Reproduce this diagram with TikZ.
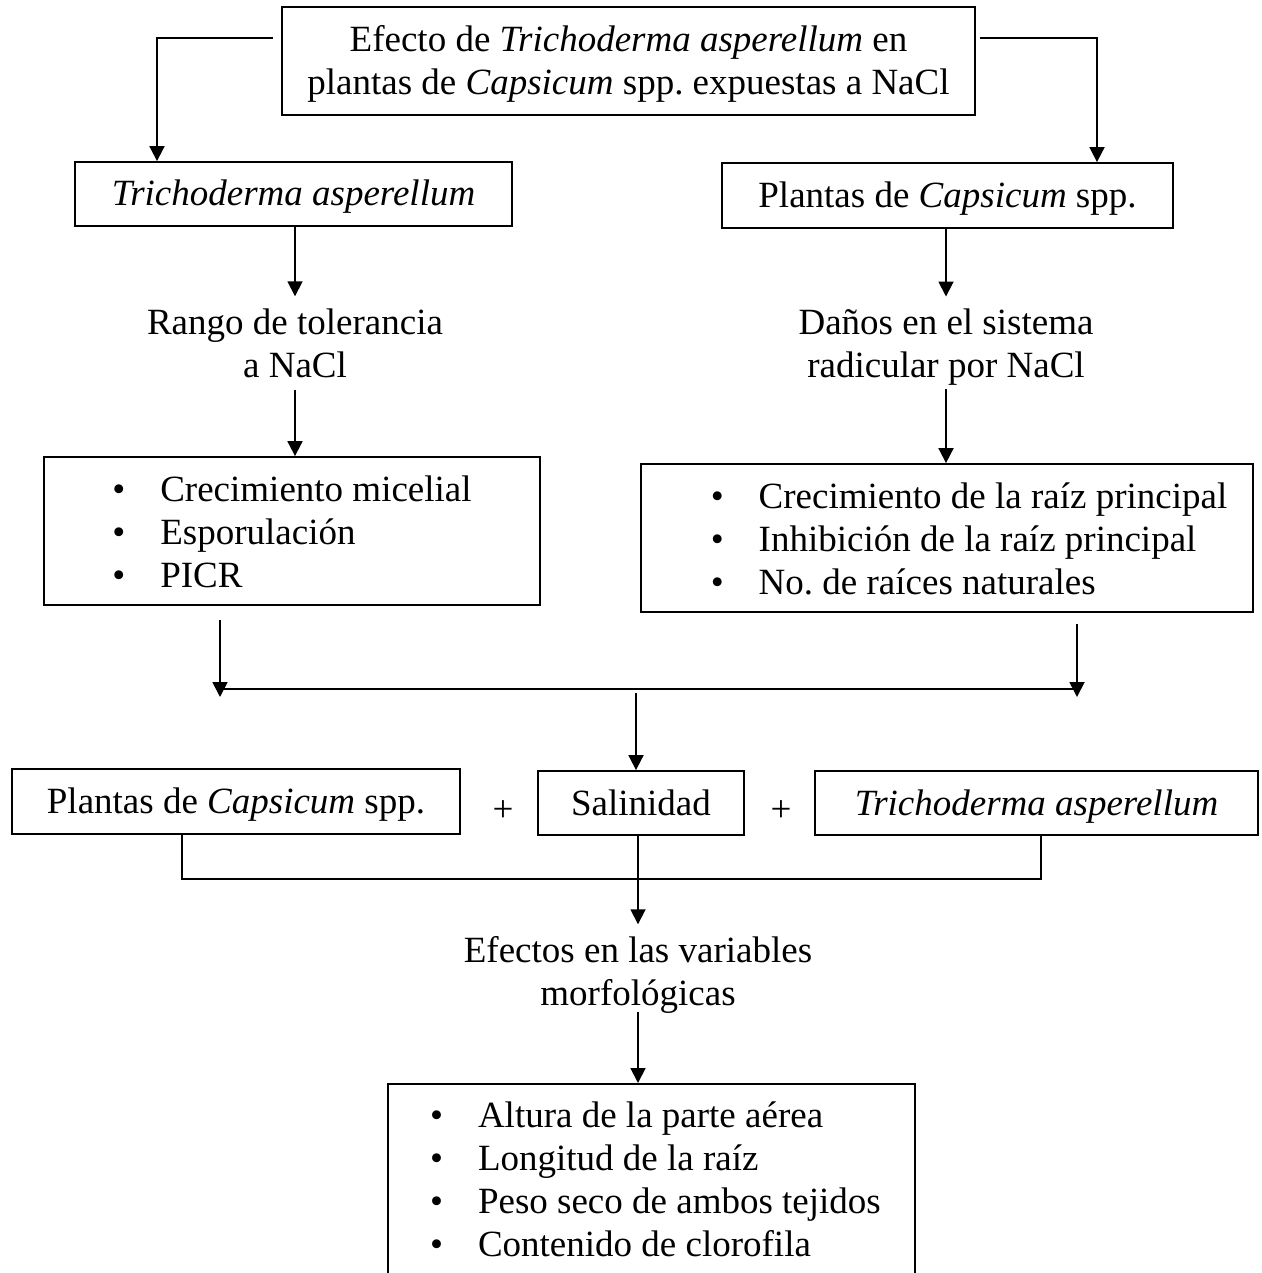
\documentclass[tikz,border=0pt]{standalone}
\usepackage{fontspec}
\setmainfont{Liberation Serif}
\usetikzlibrary{arrows.meta, positioning}
\frenchspacing

\begin{document}
\begin{tikzpicture}[x=1pt, y=-1pt, font=\fontsize{37}{43}\selectfont,
	box/.style={draw, line width=1.8pt, inner sep=0pt, align=center},
	linea/.style={text height=30pt, text depth=6pt},
	txt/.style={inner xsep=0pt, inner ysep=12pt, align=center},
	arr/.style={-{Triangle[length=15pt, width=15pt]}, line width=1.8pt}]
\useasboundingbox (0,0) rectangle (1261,1273);
\node[box, minimum width=693pt, minimum height=108pt] (tema) at (628.5,61) {\rule{0pt}{31pt}Efecto de \textit{Trichoderma asperellum} en\\plantas de \textit{Capsicum} spp. expuestas a NaCl};
\node[box, linea, minimum width=437pt, minimum height=64pt] (tricho) at (293.5,194) {\textit{Trichoderma asperellum}};
\node[box, linea, minimum width=451pt, minimum height=65pt] (capsi) at (947.5,195.5) {Plantas de \textit{Capsicum} spp.};
\node[txt] (rango) at (295,343) {Rango de tolerancia\\a NaCl};
\node[txt] (danos) at (946,347) {Daños en el sistema\\radicular por NaCl};
\node[box, minimum width=496pt, minimum height=148pt] (micel) at (292,531) {\begin{tabular}{@{}c@{\hspace{35pt}}l@{}}\rule{0pt}{40pt}\textbullet & Crecimiento micelial\\ \textbullet & Esporulación\\ \textbullet & PICR\end{tabular}};
\node[box, minimum width=612pt, minimum height=148pt] (raiz) at (947,538) {\begin{tabular}{@{\hspace{44pt}}c@{\hspace{35pt}}l@{}}\rule{0pt}{40pt}\textbullet & Crecimiento de la raíz principal\\ \textbullet & Inhibición de la raíz principal\\ \textbullet & No. de raíces naturales\end{tabular}};
\node[box, linea, minimum width=448pt, minimum height=65pt] (plantas) at (236,801.5) {Plantas de \textit{Capsicum} spp.};
\node[box, linea, minimum width=206pt, minimum height=64pt] (sal) at (641,803) {Salinidad};
\node[box, linea, minimum width=443pt, minimum height=64pt] (hongo) at (1036.5,803) {\textit{Trichoderma asperellum}};
\node (masa) at (503,811) {+};
\node (masb) at (781,811) {+};
\node[txt] (efectos) at (638,975) {Efectos en las variables\\morfológicas};
\node[box, anchor=north, minimum width=527pt, inner ysep=13pt] (medidas) at (651.5,1083) {\begin{tabular}{@{\hspace{8pt}}c@{\hspace{35pt}}l@{}}\textbullet & Altura de la parte aérea\\ \textbullet & Longitud de la raíz\\ \textbullet & Peso seco de ambos tejidos\\ \textbullet & Contenido de clorofila\\[30pt]\end{tabular}};
% ramas superiores
\coordinate (izq) at (273,38);
\coordinate (izqc) at (157,38);
\coordinate (der) at (980,38);
\coordinate (derc) at (1097,38);
\draw[arr] (izq) -- (izqc) -- (izqc |- tricho.north);
\draw[arr] (der) -- (derc) -- (derc |- capsi.north);
\draw[arr] (tricho.south -| rango) -- (rango.north);
\draw[arr] (rango.south) -- (rango.south |- micel.north);
\draw[arr] (capsi.south -| danos) -- (danos.north);
\draw[arr, shorten <=-8pt] (danos.south) -- (danos.south |- raiz.north);
% union
\coordinate (sl) at (220,620);
\coordinate (sr) at (1077,624);
\coordinate (jl) at (220,689);
\coordinate (jr) at (1077,689);
\coordinate (jm) at (636,693);
\draw[line width=1.8pt] (jl) -- (jr);
\draw[arr] (sl) -- ++(0,77);
\draw[arr] (sr) -- ++(0,73);
\draw[arr] (jm) -- (jm |- sal.north);
% corchete inferior
\coordinate (bl) at (182,879);
\coordinate (br) at (1041,879);
\draw[line width=1.8pt] (plantas.south -| bl) -- (bl) -- (br) -- (hongo.south -| br);
\draw[arr] (sal.south -| efectos) -- (efectos.north);
\draw[arr, shorten <=-14pt] (efectos.south) -- (efectos.south |- medidas.north);
\end{tikzpicture}
\end{document}
